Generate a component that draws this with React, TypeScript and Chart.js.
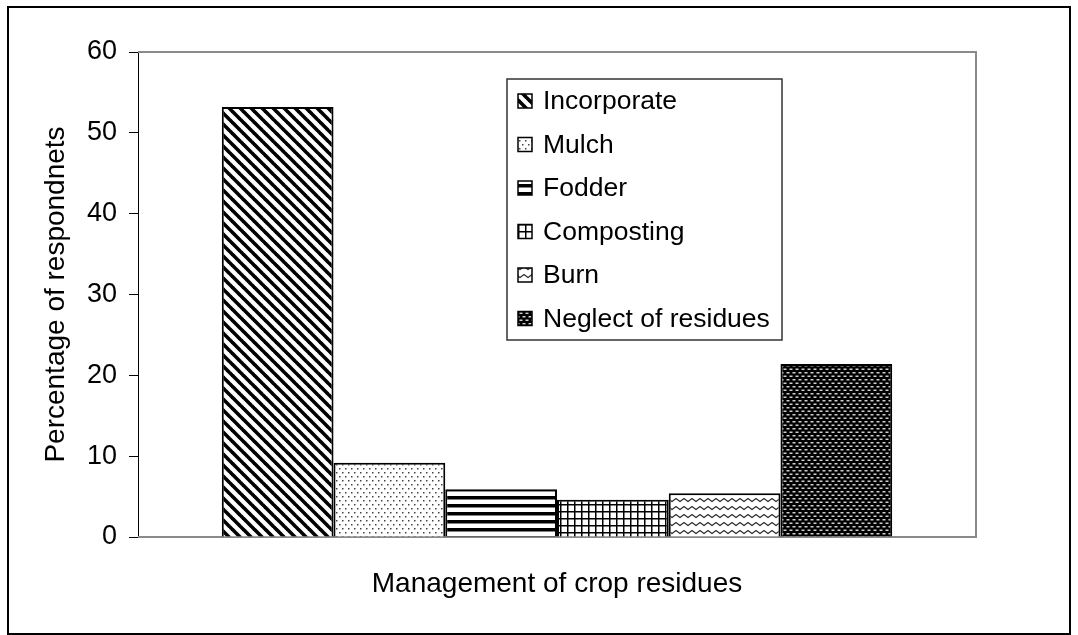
import React, { useEffect, useRef } from "react";
import { Chart, registerables } from "chart.js";

Chart.register(...registerables);

// ---- data ----
const categories = [""];
const seriesLabels = ["Incorporate", "Mulch", "Fodder", "Composting", "Burn", "Neglect of residues"];
const seriesValues = [53.2, 9.2, 5.9, 4.6, 5.4, 21.4];
const yMin = 0;
const yMax = 60;
const yStep = 10;
const xTitle = "Management of crop residues";
const yTitle = "Percentage of respondnets";

const FONT = "'Liberation Sans', Arial, Helvetica, sans-serif";

function makePattern(kind: number): CanvasPattern | string {
  const c = document.createElement("canvas");
  const g = c.getContext("2d")!;
  let w = 8, h = 8;
  if (kind === 0) { w = 11; h = 11; }
  if (kind === 1) { w = 6; h = 8; }
  if (kind === 2) { w = 8; h = 8; }
  if (kind === 3) { w = 7; h = 7; }
  if (kind === 4) { w = 8; h = 8; }
  if (kind === 5) { w = 6; h = 7; }
  c.width = w; c.height = h;
  g.fillStyle = "#fff";
  g.fillRect(0, 0, w, h);
  if (kind === 0) {
    g.strokeStyle = "#000";
    g.lineWidth = 3.6;
    for (const k of [-w, 0, w]) {
      g.beginPath();
      g.moveTo(k - 1, -1);
      g.lineTo(k + w + 1, h + 1);
      g.stroke();
    }
  } else if (kind === 1) {
    g.fillStyle = "#444";
    g.fillRect(0, 0, 1.5, 1.5);
    g.fillRect(3, 4, 1.5, 1.5);
  } else if (kind === 2) {
    g.fillStyle = "#000";
    g.fillRect(0, 0, w, 3.5);
  } else if (kind === 3) {
    g.fillStyle = "#000";
    g.fillRect(0, 0, 1.5, h);
    g.fillRect(0, 0, w, 1.5);
  } else if (kind === 4) {
    g.strokeStyle = "#333";
    g.lineWidth = 1.4;
    g.beginPath();
    g.moveTo(-2, 7);
    g.lineTo(0, 5.5);
    g.lineTo(4, 2.5);
    g.lineTo(8, 5.5);
    g.lineTo(10, 7);
    g.stroke();
  } else if (kind === 5) {
    g.fillStyle = "#000";
    g.fillRect(0, 0, w, h);
    g.fillStyle = "#d0d0d0";
    g.fillRect(0.5, 1, 3, 1.5);
    g.fillRect(3.5, 4.5, 3, 1.5);
    g.fillRect(-2.5, 4.5, 3, 1.5);
  }
  const p = g.createPattern(c, "repeat");
  return p || "#888";
}

export default function App() {
  const ref = useRef<HTMLCanvasElement | null>(null);

  useEffect(() => {
    if (!ref.current) return;
    const patterns = seriesLabels.map((_, i) => makePattern(i));

    const framePlugin = {
      id: "frame",
      beforeDatasetsDraw(chart: any) {
        const ctx = chart.ctx;
        const a = chart.chartArea;
        ctx.save();
        // outer border
        ctx.strokeStyle = "#000";
        ctx.lineWidth = 2;
        ctx.strokeRect(8, 7, 1062, 627);
        // plot area border (top, right, bottom)
        ctx.strokeStyle = "#8a8a8a";
        ctx.lineWidth = 2;
        ctx.beginPath();
        ctx.moveTo(a.left, a.top);
        ctx.lineTo(a.right, a.top);
        ctx.lineTo(a.right, a.bottom);
        ctx.lineTo(a.left, a.bottom);
        ctx.stroke();
        ctx.restore();
      },
      afterDatasetsDraw(chart: any) {
        const ctx = chart.ctx;
        ctx.save();
        // legend box
        const bx = 507, by = 79, bw = 275, bh = 261;
        ctx.fillStyle = "#fff";
        ctx.fillRect(bx, by, bw, bh);
        ctx.strokeStyle = "#333";
        ctx.lineWidth = 1.5;
        ctx.strokeRect(bx, by, bw, bh);
        ctx.font = `26.5px ${FONT}`;
        ctx.textBaseline = "middle";
        ctx.textAlign = "left";
        chart.data.datasets.forEach((ds: any, i: number) => {
          const cy = 101 + i * 43.5;
          const sx = 518, sz = 14;
          ctx.fillStyle = ds.backgroundColor;
          ctx.fillRect(sx, cy - sz / 2, sz, sz);
          ctx.strokeStyle = "#000";
          ctx.lineWidth = 1.5;
          ctx.strokeRect(sx, cy - sz / 2, sz, sz);
          ctx.fillStyle = "#000";
          ctx.fillText(ds.label, 543, cy + 1);
        });
        ctx.restore();
      },
    };

    const chart = new Chart(ref.current, {
      type: "bar",
      data: {
        labels: categories,
        datasets: seriesLabels.map((label, i) => ({
          label,
          data: [seriesValues[i]],
          backgroundColor: patterns[i] as any,
          borderColor: "#000",
          borderWidth: 2,
          categoryPercentage: 0.8,
          barPercentage: 1.0,
        })),
      },
      options: {
        animation: false,
        responsive: false,
        devicePixelRatio: 1,
        layout: { padding: { top: 52, right: 102, bottom: 0, left: 0 } },
        plugins: {
          legend: { display: false },
          tooltip: { enabled: false },
        },
        scales: {
          x: {
            type: "category",
            grid: { display: false },
            border: { display: false },
            ticks: { display: false },
            title: {
              display: true,
              text: xTitle,
              color: "#000",
              font: { size: 28, family: FONT },
              padding: { top: 0, bottom: 34 },
            },
            afterFit: (s: any) => { s.height = 98; },
          },
          y: {
            min: yMin,
            max: yMax,
            ticks: {
              stepSize: yStep,
              color: "#000",
              padding: 12,
              font: { size: 27, family: FONT },
            },
            grid: {
              drawOnChartArea: false,
              drawTicks: true,
              tickLength: 9,
              tickColor: "#000",
              color: "#000",
            },
            border: { display: true, color: "#000", width: 1 },
            title: {
              display: true,
              text: yTitle,
              color: "#000",
              font: { size: 28, family: FONT },
              padding: { top: 39, bottom: 0 },
            },
            afterFit: (s: any) => { s.width = 138; },
          },
        },
      },
      plugins: [framePlugin],
    });
    return () => chart.destroy();
  }, []);

  return (
    <div style={{ position: "absolute", left: 0, top: 0, width: 1078, height: 635, background: "#fff" }}>
      <canvas ref={ref} width={1078} height={635} style={{ display: "block" }} />
    </div>
  );
}
